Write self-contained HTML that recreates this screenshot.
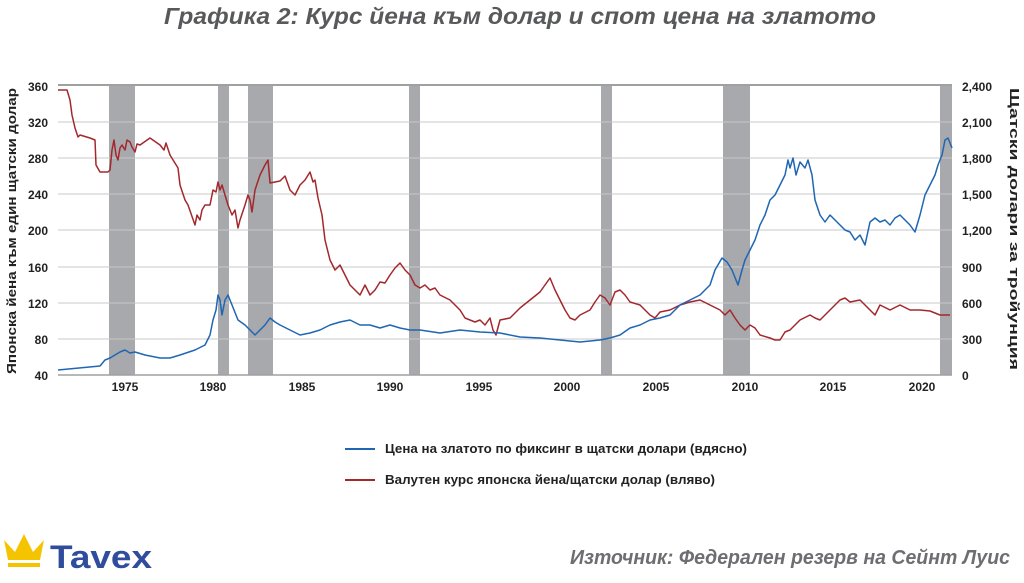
<!DOCTYPE html>
<html><head><meta charset="utf-8"><style>
body{margin:0;width:1024px;height:578px;background:#fff;overflow:hidden;font-family:"Liberation Sans",sans-serif}
</style></head><body>
<svg width="1024" height="578" xmlns="http://www.w3.org/2000/svg" font-family="Liberation Sans, sans-serif">
<text x="520" y="24" text-anchor="middle" font-size="23" font-style="italic" font-weight="bold" fill="#58595b" textLength="712" lengthAdjust="spacingAndGlyphs">Графика 2: Курс йена към долар и спот цена на златото</text>
<g fill="#a7a9ac">
<rect x="109" y="86" width="26" height="289"/><rect x="218" y="86" width="11" height="289"/>
<rect x="248" y="86" width="25" height="289"/><rect x="409" y="86" width="11" height="289"/>
<rect x="601" y="86" width="11" height="289"/><rect x="723" y="86" width="27" height="289"/>
<rect x="940" y="86" width="12" height="289"/>
</g>
<g stroke="#c8c8c8" stroke-width="1">
<line x1="58" x2="952" y1="122" y2="122"/><line x1="58" x2="952" y1="158" y2="158"/>
<line x1="58" x2="952" y1="194" y2="194"/><line x1="58" x2="952" y1="230" y2="230"/>
<line x1="58" x2="952" y1="267" y2="267"/><line x1="58" x2="952" y1="303" y2="303"/>
<line x1="58" x2="952" y1="339" y2="339"/>
</g>
<line x1="58" x2="952" y1="85" y2="85" stroke="#a0a0a0" stroke-width="2"/>
<line x1="58" x2="952" y1="375" y2="375" stroke="#a0a0a0" stroke-width="1.5"/>
<g font-size="12" font-weight="bold" fill="#222" text-anchor="end">
<text x="48" y="91">360</text><text x="48" y="127">320</text><text x="48" y="163">280</text><text x="48" y="199">240</text><text x="48" y="235">200</text><text x="48" y="272">160</text><text x="48" y="308">120</text><text x="48" y="344">80</text><text x="48" y="380">40</text>
</g>
<g font-size="12" font-weight="bold" fill="#222" text-anchor="start">
<text x="962" y="91">2,400</text><text x="962" y="127">2,100</text><text x="962" y="163">1,800</text><text x="962" y="199">1,500</text><text x="962" y="235">1,200</text><text x="962" y="272">900</text><text x="962" y="308">600</text><text x="962" y="344">300</text><text x="962" y="380">0</text>
</g>
<g font-size="12" font-weight="bold" fill="#222" text-anchor="middle">
<text x="125" y="391">1975</text><text x="213" y="391">1980</text><text x="302" y="391">1985</text><text x="390" y="391">1990</text><text x="479" y="391">1995</text><text x="567" y="391">2000</text><text x="656" y="391">2005</text><text x="745" y="391">2010</text><text x="833" y="391">2015</text><text x="922" y="391">2020</text>
</g>
<text transform="translate(16,231) rotate(-90)" text-anchor="middle" font-size="13" font-weight="bold" fill="#222" textLength="286" lengthAdjust="spacingAndGlyphs">Японска йена към един щатски долар</text>
<text transform="translate(1010,229) rotate(90)" text-anchor="middle" font-size="13" font-weight="bold" fill="#222" textLength="282" lengthAdjust="spacingAndGlyphs">Щатски долари за тройунция</text>
<polyline fill="none" stroke="#a3282d" stroke-width="1.5" stroke-linejoin="round" points="58,90 67,90 70,100 72,115 75,128 78,137 80,135 90,138 95,140 96,165 100,172 108,172 110,170 112,150 114,140 116,155 118,160 120,148 122,145 125,150 127,140 130,142 132,147 135,152 137,144 140,145 150,138 160,145 164,150 166,143 170,155 178,168 180,185 185,200 188,205 195,225 197,215 200,220 202,210 205,205 210,205 213,190 216,192 218,182 220,190 222,185 225,195 228,205 232,215 235,210 238,228 240,220 245,205 248,195 250,200 252,212 255,190 260,175 265,165 268,160 270,183 280,181 285,176 290,190 295,195 300,185 305,180 310,172 313,182 315,180 318,198 322,215 325,240 330,260 335,270 340,265 345,275 350,285 355,290 360,295 365,285 370,295 375,290 380,282 385,283 390,275 395,268 400,263 405,270 410,275 415,285 420,288 425,285 430,290 435,288 440,295 450,300 460,310 465,318 470,320 475,322 480,320 485,325 490,318 493,330 496,335 500,320 510,318 520,308 530,300 540,292 550,278 555,290 560,300 565,310 570,318 575,320 580,315 590,310 595,302 600,295 605,298 610,305 615,292 620,290 625,295 630,302 640,305 650,315 655,318 660,312 670,310 680,305 690,302 700,300 710,305 720,310 725,315 730,310 735,318 740,325 745,330 750,325 755,328 760,335 770,338 775,340 780,340 785,332 790,330 800,320 810,315 815,318 820,320 830,310 840,300 845,298 850,302 860,300 865,305 870,310 875,315 880,305 890,310 900,305 910,310 920,310 930,311 940,315 950,315"/>
<polyline fill="none" stroke="#1f66b3" stroke-width="1.5" stroke-linejoin="round" points="58,370 100,366 105,360 110,358 115,355 120,352 125,350 130,353 135,352 145,355 160,358 170,358 180,355 195,350 205,345 210,335 213,320 216,310 218,295 220,300 222,315 225,300 228,295 232,305 238,320 245,325 250,330 255,335 260,330 265,325 270,318 275,322 280,325 290,330 300,335 310,333 320,330 330,325 340,322 350,320 360,325 370,325 380,328 390,325 400,328 410,330 420,330 440,333 460,330 480,332 500,333 520,337 540,338 560,340 580,342 600,340 610,338 620,335 630,328 640,325 650,320 660,318 670,315 680,305 690,300 700,295 710,285 715,270 722,258 727,262 732,270 738,285 742,270 745,260 750,250 755,240 760,225 765,215 770,200 775,195 780,185 785,175 788,160 790,168 793,158 796,175 800,162 805,168 808,160 812,175 815,200 820,215 825,222 830,215 835,220 840,225 845,230 850,232 855,240 860,235 865,245 870,222 875,218 880,222 885,220 890,225 895,218 900,215 905,220 910,225 915,232 920,215 925,195 930,185 935,175 938,165 942,155 945,140 948,138 952,148"/>
<line x1="345" x2="375" y1="449" y2="449" stroke="#1f66b3" stroke-width="2"/>
<line x1="345" x2="375" y1="480" y2="480" stroke="#a3282d" stroke-width="2"/>
<g font-size="13" font-weight="bold" fill="#222">
<text x="385" y="453" textLength="362" lengthAdjust="spacingAndGlyphs">Цена на златото по фиксинг в щатски долари (вдясно)</text>
<text x="385" y="484" textLength="330" lengthAdjust="spacingAndGlyphs">Валутен курс японска йена/щатски долар (вляво)</text>
</g>
<g fill="#f5c400">
<polygon points="4,540 15,552 24,534 33,552 44,540 40,560 8,560"/>
<rect x="8" y="563" width="32" height="4"/>
</g>
<text x="50" y="568" font-size="32" font-weight="bold" fill="#2f4d9c" textLength="102" lengthAdjust="spacingAndGlyphs">Tavex</text>
<text x="1010" y="564" text-anchor="end" font-size="20" font-style="italic" font-weight="bold" fill="#6d6e71" textLength="440" lengthAdjust="spacingAndGlyphs">Източник: Федерален резерв на Сейнт Луис</text>
</svg>
</body></html>
